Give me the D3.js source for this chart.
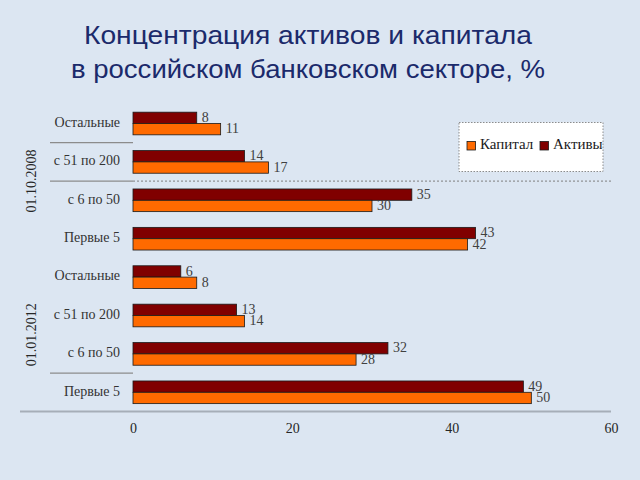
<!DOCTYPE html>
<html><head><meta charset="utf-8">
<script src="https://cdn.jsdelivr.net/npm/d3@7"></script>
<style>html,body{margin:0;padding:0;background:#dce6f2;}svg{display:block;}</style>
</head><body>
<svg id="c" width="640" height="480"></svg>
<script>
const titleLines = ["Концентрация активов и капитала", "в российском банковском секторе, %"];
const periods = ["01.10.2008", "01.01.2012"];
const categories = ["Остальные", "с 51 по 200", "с 6 по 50", "Первые 5"];
const seriesNames = ["Капитал", "Активы"];
const assets2008 = [8, 14, 35, 43];
const capital2008 = [11, 17, 30, 42];
const assets2012 = [6, 13, 32, 49];
const capital2012 = [8, 14, 28, 50];
const xTicks = [0, 20, 40, 60];

const rows = [];
periods.forEach((p, pi) => {
  const a = pi === 0 ? assets2008 : assets2012;
  const k = pi === 0 ? capital2008 : capital2012;
  categories.forEach((c, ci) => rows.push({id: p + "|" + c, period: p, cat: c, assets: a[ci], capital: k[ci]}));
});

const svg = d3.select("#c");
const colors = {"Капитал": "#ff6a00", "Активы": "#800000"};
const titleW = [448, 474];

svg.append("g").selectAll("text").data(titleLines).join("text")
  .attr("x", 308).attr("y", (d, i) => 44 + i * 33.5)
  .attr("text-anchor", "middle")
  .attr("font-family", "'Liberation Sans', Arial, sans-serif")
  .attr("font-size", 26).attr("fill", "#1b2a6b")
  .attr("textLength", (d, i) => titleW[i]).attr("lengthAdjust", "spacingAndGlyphs")
  .text(d => d);

const x = d3.scaleLinear().domain([0, 60]).range([133, 611]);
const y = d3.scaleBand().domain(rows.map(r => r.id)).range([104.3, 411.5]).paddingInner(0.41).paddingOuter(0.205);
const sub = d3.scaleBand().domain(["Активы", "Капитал"]).range([0, y.bandwidth()]);

const serif = "'Liberation Serif', 'Times New Roman', 'DejaVu Serif', serif";

// separator lines
const g = svg.append("g");
function sepY(i) { return y(rows[i].id) + y.bandwidth() + (y.step() - y.bandwidth()) / 2; }
[0, 1, 6].forEach(i => {
  g.append("line").attr("x1", 50).attr("x2", 133).attr("y1", sepY(i)).attr("y2", sepY(i))
    .attr("stroke", "#8c8c8c").attr("stroke-width", 1.2);
});
g.append("line").attr("x1", 133).attr("x2", 611).attr("y1", sepY(1)).attr("y2", sepY(1))
  .attr("stroke", "#7f7f7f").attr("stroke-width", 1).attr("stroke-dasharray", "2,2");

// bars
const bars = svg.append("g");
rows.forEach(r => {
  [["Активы", r.assets], ["Капитал", r.capital]].forEach(([s, v]) => {
    const yy = y(r.id) + sub(s);
    bars.append("rect").attr("x", x(0)).attr("y", yy).attr("width", x(v) - x(0)).attr("height", sub.bandwidth())
      .attr("fill", colors[s]).attr("stroke", "#1a1a1a").attr("stroke-width", 0.8);
    bars.append("text").attr("x", x(v) + 5).attr("y", yy + sub.bandwidth() / 2 + 1)
      .attr("dominant-baseline", "middle").attr("font-family", serif).attr("font-size", 14)
      .attr("fill", "#404040").text(v);
  });
});

// x axis
const axis = d3.axisBottom(x).tickValues(xTicks).tickSize(0).tickPadding(0);
const ax = svg.append("g").attr("transform", "translate(0,411.5)").call(axis);
ax.select(".domain").remove();
ax.selectAll("text").attr("font-family", serif).attr("font-size", 14).attr("fill", "#262626").attr("dy", "1.55em");
svg.append("line").attr("x1", 20).attr("x2", 611).attr("y1", 411.5).attr("y2", 411.5)
  .attr("stroke", "#a6aeb8").attr("stroke-width", 2);

// category labels
svg.append("g").selectAll("text").data(rows).join("text")
  .attr("x", 120).attr("y", d => y(d.id) + y.bandwidth() / 2)
  .attr("text-anchor", "end").attr("dominant-baseline", "middle")
  .attr("font-family", serif).attr("font-size", 14).attr("fill", "#333").text(d => d.cat);

// period labels
periods.forEach((p, pi) => {
  const ids = rows.filter(r => r.period === p).map(r => r.id);
  const cy = (y(ids[0]) + y(ids[ids.length - 1]) + y.bandwidth()) / 2;
  svg.append("text").attr("transform", `translate(33,${cy}) rotate(-90)`)
    .attr("text-anchor", "middle").attr("dominant-baseline", "middle")
    .attr("font-family", serif).attr("font-size", 14).attr("fill", "#262626").text(p);
});

// legend
const lg = svg.append("g");
lg.append("rect").attr("x", 459).attr("y", 122.5).attr("width", 144).attr("height", 49)
  .attr("fill", "#fff").attr("stroke", "#8c8c8c").attr("stroke-dasharray", "1.5,1.5");
const lx = [467, 540];
seriesNames.forEach((s, i) => {
  lg.append("rect").attr("x", lx[i]).attr("y", 141.5).attr("width", 8.5).attr("height", 8.5)
    .attr("fill", colors[s]).attr("stroke", "#1a1a1a").attr("stroke-width", 0.8);
  lg.append("text").attr("x", lx[i] + 13).attr("y", 146).attr("dominant-baseline", "middle")
    .attr("font-family", serif).attr("font-size", 15).attr("fill", "#1a1a1a").text(s);
});
</script>
</body></html>
